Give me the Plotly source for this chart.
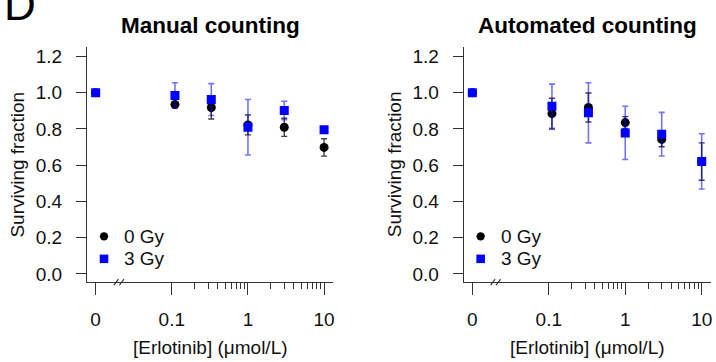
import plotly.graph_objects as go

# ---------------- data ----------------
doses = [0, 0.11, 0.33, 1, 3, 10]          # Erlotinib, umol/L (0 = untreated control)
manual_0gy = [1.0, 0.935, 0.918, 0.822, 0.809, 0.698]
manual_0gy_err = [0, 0.015, 0.063, 0.055, 0.05, 0.048]
manual_3gy = [1.0, 0.985, 0.962, 0.809, 0.902, 0.795]
manual_3gy_err = [0, 0.07, 0.088, 0.153, 0.051, 0.015]
auto_0gy = [1.0, 0.884, 0.918, 0.835, 0.742, 0.62]
auto_0gy_err = [0, 0.085, 0.08, 0.033, 0.04, 0.103]
auto_3gy = [1.0, 0.925, 0.889, 0.778, 0.771, 0.621]
auto_3gy_err = [0, 0.122, 0.166, 0.147, 0.12, 0.152]

panel_titles = ["Manual counting", "Automated counting"]
series_names = ["0 Gy", "3 Gy"]
x_tickvals = [0.01, 0.1, 1, 10]
x_ticktext = ["0", "0.1", "1", "10"]
x_minor = [0.2, 0.3, 0.4, 0.5, 0.6, 0.7, 0.8, 0.9, 2, 3, 4, 5, 6, 7, 8, 9]
y_tickvals = [0, 0.2, 0.4, 0.6, 0.8, 1.0, 1.2]

ZERO_POS = 0.01  # where the 0 dose is placed on the broken log axis
xplot = [d if d > 0 else ZERO_POS for d in doses]

# ---------------- layout helpers ----------------
W, H = 716, 362
FONT = "Liberation Sans, Arial, Helvetica, sans-serif"
AX = "#333333"


def px(x):
    return x / W


def py(y):
    return 1 - y / H


panels = [
    dict(x0=87.3, x1=334.0, xa="x", ya="y", d0=manual_0gy, e0=manual_0gy_err,
         d3=manual_3gy, e3=manual_3gy_err),
    dict(x0=465.0, x1=712.7, xa="x2", ya="y2", d0=auto_0gy, e0=auto_0gy_err,
         d3=auto_3gy, e3=auto_3gy_err),
]
Y0, Y1 = 47.0, 284.3

fig = go.Figure()
annotations = []
shapes = []

for i, p in enumerate(panels):
    fig.add_trace(go.Scatter(
        x=xplot, y=p["d0"], mode="markers", name=series_names[0], showlegend=False,
        xaxis=p["xa"], yaxis=p["ya"],
        marker=dict(symbol="circle", size=9, color="black"),
        error_y=dict(type="data", array=p["e0"], color="rgba(0,0,0,0.75)",
                     thickness=1.4, width=3),
    ))
    fig.add_trace(go.Scatter(
        x=xplot, y=p["d3"], mode="markers", name=series_names[1], showlegend=False,
        xaxis=p["xa"], yaxis=p["ya"],
        marker=dict(symbol="square", size=9, color="#0000ff"),
        error_y=dict(type="data", array=p["e3"], color="rgba(0,0,255,0.55)",
                     thickness=1.6, width=3),
    ))

    sfx = "" if i == 0 else "2"
    fig.update_layout(**{
        "xaxis" + sfx: dict(
            type="log", range=[-2.113, 1.118], domain=[px(p["x0"]), px(p["x1"])],
            anchor="y" + sfx, showline=True, linecolor=AX, linewidth=1.2,
            showgrid=False, zeroline=False, ticks="outside", ticklen=12,
            tickwidth=1.2, tickcolor=AX, tickmode="array", tickvals=x_tickvals,
            ticktext=x_ticktext, ticklabelstandoff=8,
            tickfont=dict(family=FONT, size=19, color="#111"),
            minor=dict(tickmode="array", tickvals=x_minor, ticks="outside",
                       ticklen=6, tickwidth=1, tickcolor=AX, showgrid=False),
        ),
        "yaxis" + sfx: dict(
            range=[-0.044, 1.254], domain=[py(Y1), py(Y0)], anchor="x" + sfx,
            showline=True, linecolor=AX, linewidth=1.2, showgrid=False,
            zeroline=False, ticks="outside", ticklen=10, tickwidth=1.2,
            tickcolor=AX, tickvals=y_tickvals, tickformat=".1f",
            ticklabelstandoff=10,
            tickfont=dict(family=FONT, size=19, color="#111"),
        ),
    })

    cx = (p["x0"] + p["x1"]) / 2
    annotations.append(dict(
        text="<b>" + panel_titles[i] + "</b>", x=px(cx), y=py(25.5),
        xref="paper", yref="paper", showarrow=False, xanchor="center",
        yanchor="middle", font=dict(family=FONT, size=22.5, color="black")))
    annotations.append(dict(
        text="[Erlotinib] (μmol/L)", x=px(cx), y=py(350.5),
        xref="paper", yref="paper", showarrow=False, xanchor="center",
        yanchor="middle", font=dict(family=FONT, size=19, color="#111")))
    annotations.append(dict(
        text="Surviving fraction", x=px(p["x0"] - 69.8), y=py(165.5),
        xref="paper", yref="paper", showarrow=False, xanchor="center",
        yanchor="middle", textangle=-90,
        font=dict(family=FONT, size=19, color="#111")))

    # legend (drawn in paper space)
    lx = p["x0"] + 17.0
    for name, yy in zip(series_names, [238.3, 261.0]):
        annotations.append(dict(
            text=name, x=px(lx + 18), y=py(yy), xref="paper", yref="paper",
            showarrow=False, xanchor="left", yanchor="middle",
            font=dict(family=FONT, size=19, color="#111")))
    shapes.append(dict(type="circle", xref="paper", yref="paper",
                       x0=px(lx - 4.2), x1=px(lx + 4.2), y0=py(238.3 + 4.2),
                       y1=py(238.3 - 4.2), fillcolor="black", line=dict(width=0)))
    shapes.append(dict(type="rect", xref="paper", yref="paper",
                       x0=px(lx - 4.3), x1=px(lx + 4.3), y0=py(261 + 4.3),
                       y1=py(261 - 4.3), fillcolor="#0000ff", line=dict(width=0)))

    # axis break marks "//"
    bx = p["x0"] + 27.0
    for off in (0, 5.5):
        shapes.append(dict(type="line", xref="paper", yref="paper",
                           x0=px(bx + off), y0=py(287.5),
                           x1=px(bx + off + 4.5), y1=py(281.5),
                           line=dict(color=AX, width=1.1)))

annotations.append(dict(
    text="D", x=px(2), y=py(5), xref="paper", yref="paper", showarrow=False,
    xanchor="left", yanchor="middle", font=dict(family=FONT, size=44, color="black")))

fig.update_layout(
    width=W, height=H, margin=dict(l=0, r=0, t=0, b=0),
    paper_bgcolor="white", plot_bgcolor="white", showlegend=False,
    annotations=annotations, shapes=shapes,
)

fig.write_html(
    "out.html",
    config={"displayModeBar": False},
    post_script="document.body.style.margin='0px';document.body.style.overflow='hidden';",
)
